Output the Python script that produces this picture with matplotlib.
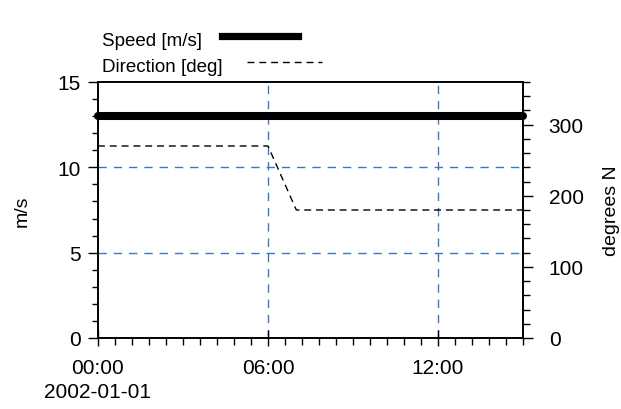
import pandas as pd
import numpy as np
import matplotlib
matplotlib.use('Agg')
import matplotlib.pyplot as plt
import matplotlib.dates as mdates
from matplotlib.ticker import MultipleLocator, FuncFormatter
from matplotlib.lines import Line2D

plt.rcParams['font.family'] = ['Liberation Sans', 'DejaVu Sans']

# Dados (horas desde 2002-01-01 00:00)
horas = [0, 1, 2, 3, 4, 5, 6, 7, 8, 9, 10, 11, 12, 13, 14, 15]
velocidade = [13, 13, 13, 13, 13, 13, 13, 13, 13, 13, 13, 13, 13, 13, 13, 13]
direcao = [270, 270, 270, 270, 270, 270, 270, 180, 180, 180, 180, 180, 180, 180, 180, 180]

inicio = pd.Timestamp('2002-01-01')
tempo = inicio + pd.to_timedelta(horas, unit='h')

azul = '#3a77c6'

fig = plt.figure(figsize=(6.21, 4.10), dpi=100)
ax = fig.add_axes([0.1578, 0.1732, 0.6844, 0.6244])
ax2 = ax.twinx()

# Velocidade (eixo esquerdo)
ax.plot(tempo, velocidade, color='black', lw=5.8, solid_capstyle='round',
        clip_on=False, zorder=5)
ax.set_ylim(0, 15)
ax.set_xlim(inicio, inicio + pd.Timedelta(hours=15))

# Direção (eixo direito)
ax2.plot(tempo, direcao, color='black', lw=1.0, dashes=(5, 3.5), zorder=4)
ax2.set_ylim(0, 360)

# Grade azul tracejada
for h in [6, 12]:
    ax.axvline(inicio + pd.Timedelta(hours=h), color=azul, lw=1.0,
               dashes=(6, 5), zorder=1)
for v in [5, 10]:
    ax.axhline(v, color=azul, lw=1.0, dashes=(6, 5), zorder=1)

# Ticks
ax.xaxis.set_major_locator(mdates.HourLocator(byhour=[0, 6, 12]))
ax.xaxis.set_minor_locator(MultipleLocator(0.025))


def fmt_hora(x, pos):
    d = mdates.num2date(x)
    s = d.strftime('%H:%M')
    if pos == 0:
        s += '\n' + d.strftime('%Y-%m-%d')
    return s


ax.xaxis.set_major_formatter(FuncFormatter(fmt_hora))
ax.yaxis.set_major_locator(MultipleLocator(5))
ax.yaxis.set_minor_locator(MultipleLocator(1))
ax2.yaxis.set_major_locator(MultipleLocator(100))
ax2.yaxis.set_minor_locator(MultipleLocator(20))

ax.tick_params(axis='y', which='major', direction='out', length=7.5, width=1,
               labelsize=15, pad=5)
ax.tick_params(axis='y', which='minor', direction='out', length=4.5, width=1)
ax.tick_params(axis='x', which='major', direction='inout', length=11, width=1,
               labelsize=15, pad=9)
ax.tick_params(axis='x', which='minor', direction='out', length=5, width=1)
ax2.tick_params(axis='y', which='major', direction='out', length=7.5, width=1,
                labelsize=15, pad=11)
ax2.tick_params(axis='y', which='minor', direction='out', length=5, width=1)

for lab in ax.get_xticklabels():
    lab.set_linespacing(1.3)

ax.set_ylabel('m/s', fontsize=14, labelpad=19)
ax2.set_ylabel('degrees N', fontsize=14, labelpad=14)

for sp in list(ax.spines.values()) + list(ax2.spines.values()):
    sp.set_linewidth(1.2)

# Legenda manual acima do gráfico
fig.text(102 / 621, 1 - 42 / 410, 'Speed [m/s]', fontsize=13.5,
         va='center', ha='left')
fig.text(102 / 621, 1 - 67 / 410, 'Direction [deg]', fontsize=13.5,
         va='center', ha='left')
fig.add_artist(Line2D([222 / 621, 298 / 621], [1 - 37 / 410, 1 - 37 / 410],
                      color='black', lw=5.2, transform=fig.transFigure))
fig.add_artist(Line2D([247 / 621, 322 / 621], [1 - 63 / 410, 1 - 63 / 410],
                      color='black', lw=1.0, dashes=(5, 3.5),
                      transform=fig.transFigure))

fig.savefig('out.png', dpi=100)
